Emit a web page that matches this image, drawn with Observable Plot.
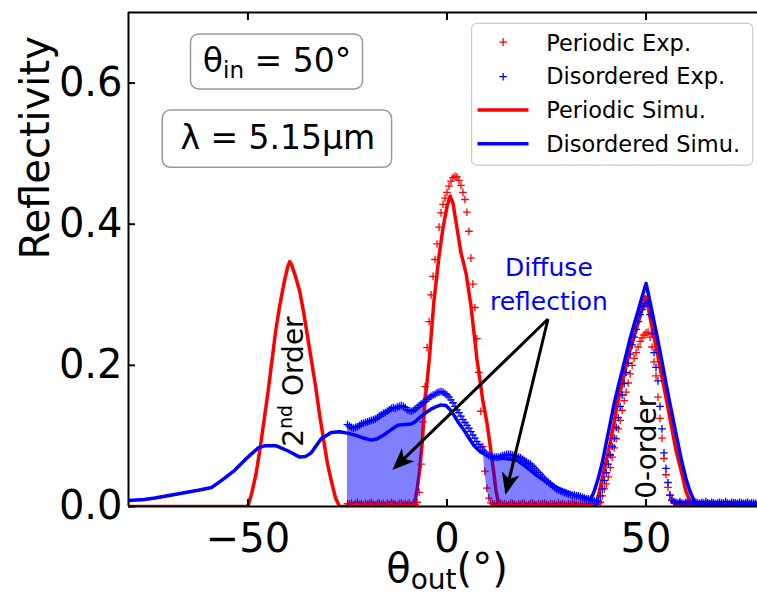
<!DOCTYPE html>
<html><head><meta charset="utf-8">
<script src="https://cdn.jsdelivr.net/npm/d3@7"></script>
<script src="https://cdn.jsdelivr.net/npm/@observablehq/plot@0.6"></script>
<style>body{margin:0;background:white;}</style>
</head><body><div id="chart"></div>
<script>
// ---------- data ----------
const xTicks = [-50, 0, 50];
const yTicks = [0, 0.2, 0.4, 0.6];

// Periodic simulation [theta_out, reflectivity]
const periodicSim = [
  [-80,0],[-50,0],[-49,0.02],[-48,0.045],[-47,0.08],[-46,0.12],[-45,0.16],[-44,0.205],[-43,0.25],[-42,0.285],
  [-41,0.315],[-40,0.34],[-39.5,0.347],[-39,0.342],[-38,0.325],[-37,0.305],[-36,0.275],[-35,0.24],[-34,0.205],
  [-33,0.17],[-32,0.13],[-31,0.095],[-30,0.06],[-29,0.035],[-28,0.012],[-27,0],
  [-8.3,0],[-7.5,0.025],[-6.9,0.05],[-6.3,0.085],[-5.5,0.15],[-4.5,0.205],[-3.3,0.29],[-2,0.355],[-1,0.395],
  [0,0.425],[0.8,0.44],[1.5,0.43],[2.5,0.395],[3.5,0.36],[4.8,0.33],[6,0.285],[7.5,0.21],[9,0.15],[10,0.12],
  [10.9,0.084],[11.7,0.05],[12.3,0.023],[13.1,0],
  [37.3,0],[38,0.015],[39,0.04],[40,0.065],[41,0.09],[42,0.12],[42.8,0.146],[44,0.175],[45,0.2],[46,0.222],
  [47,0.24],[48,0.26],[49,0.28],[49.9,0.297],[50.5,0.283],[51,0.268],[52,0.24],[53,0.212],[54,0.183],[55.3,0.146],
  [56.5,0.11],[57.5,0.08],[58.8,0.051],[60,0.022],[61,0.008],[61.6,0],[80,0]
];

// Disordered simulation [theta_out, reflectivity]
const disorderedSim = [
  [-80,0.0085],[-76,0.01],[-73.4,0.012],[-68.4,0.017],[-62.5,0.023],[-59.1,0.027],[-56.6,0.037],[-53.4,0.051],
  [-50,0.07],[-47.4,0.083],[-45.8,0.086],[-42.9,0.086],[-40,0.079],[-37,0.07],[-35.5,0.071],[-34.1,0.076],
  [-31.6,0.096],[-29.1,0.105],[-27,0.106],[-25,0.104],[-23,0.101],[-21,0.097],[-19,0.094],[-17.5,0.096],
  [-16,0.101],[-14,0.109],[-12.4,0.115],[-11,0.116],[-9,0.117],[-8,0.12],[-6.5,0.128],[-5,0.134],[-4,0.138],
  [-2.5,0.142],[-1.5,0.144],[-0.25,0.143],[0.8,0.137],[1.8,0.129],[3,0.118],[4.3,0.108],[5.5,0.097],[6.8,0.086],
  [8.5,0.077],[10.2,0.072],[12,0.07],[14.4,0.068],[16,0.067],[17.7,0.065],[19.5,0.058],[21,0.051],[23,0.042],
  [25.2,0.034],[27.5,0.027],[29.4,0.022],[32,0.016],[34.4,0.013],[35.5,0.011],[36.1,0.01],
  [37,0.022],[38,0.04],[39,0.062],[40,0.09],[41,0.118],[42,0.146],[43,0.17],[44,0.192],[45,0.215],[46,0.238],
  [47,0.258],[48,0.277],[49,0.297],[50,0.316],[51,0.29],[52,0.262],[52.8,0.24],[54,0.205],[55,0.175],[56,0.146],
  [57,0.118],[58,0.09],[59,0.063],[60,0.04],[61,0.022],[62,0.009],[62.5,0.005],[70,0.005],[80,0.004]
];

// Experimental sampling angles (every 0.5 deg from -25 to 80)
const expTheta = d3.range(-25, 80.25, 0.5);

// Periodic experiment reflectivity at expTheta
const periodicExpR = [
  // -25 .. -8
  0.004,0.003,0.005,0.002,0.004,0.006,0.003,0.004,0.002,0.005,
  0.003,0.004,0.006,0.003,0.002,0.004,0.005,0.003,0.004,0.002,
  0.005,0.003,0.006,0.004,0.003,0.002,0.004,0.005,0.003,0.004,
  0.003,0.005,0.002,0.004,0.003,
  // -7.5 .. 11
  0.006,0.02,0.06,0.12,0.17,0.225,0.262,0.3,0.326,0.35,
  0.372,0.396,0.416,0.428,0.437,0.445,0.454,0.461,0.466,0.468,
  0.467,0.462,0.455,0.445,0.435,0.417,0.39,0.352,0.315,0.282,
  0.238,0.19,0.135,0.085,0.05,0.026,0.012,0.005,
  // 11.5 .. 38
  0.004,0.003,0.002,0.004,0.005,0.003,0.004,0.002,0.003,0.005,
  0.004,0.003,0.002,0.004,0.003,0.005,0.004,0.002,0.003,0.004,
  0.005,0.003,0.002,0.004,0.003,0.004,0.005,0.003,0.002,0.004,
  0.003,0.004,0.002,0.005,0.003,0.004,0.003,0.002,0.004,0.003,
  0.005,0.004,0.003,0.002,0.004,0.003,0.004,0.003,0.002,0.003,
  0.004,0.003,0.003,0.004,
  // 38.5 .. 57
  0.006,0.015,0.025,0.032,0.042,0.055,0.07,0.083,0.096,0.11,
  0.122,0.136,0.15,0.162,0.175,0.188,0.2,0.21,0.218,0.226,
  0.234,0.239,0.243,0.246,0.247,0.24,0.226,0.205,0.185,0.155,
  0.125,0.097,0.068,0.045,0.027,0.016,0.009,0.005,
  // 57.5 .. 80
  0.004,0.003,0.005,0.003,0.002,0.004,0.006,0.003,0.004,0.002,
  0.005,0.003,0.004,0.003,0.002,0.004,0.005,0.003,0.004,0.003,
  0.002,0.004,0.003,0.005,0.003,0.004,0.002,0.003,0.004,0.005,
  0.003,0.004,0.002,0.003,0.004,0.003,0.005,0.003,0.004,0.002,
  0.003,0.004,0.003,0.005,0.004,0.003
];

// Disordered experiment reflectivity at expTheta
const disorderedExpR = [
  // -25 .. -8
  0.116,0.114,0.112,0.111,0.112,0.113,0.115,0.117,0.118,0.119,
  0.12,0.121,0.122,0.123,0.124,0.126,0.128,0.13,0.132,0.133,
  0.135,0.137,0.139,0.14,0.139,0.141,0.142,0.143,0.142,0.14,
  0.137,0.136,0.135,0.136,0.138,
  // -7.5 .. 11
  0.14,0.143,0.145,0.147,0.149,0.152,0.154,0.156,0.158,0.159,
  0.161,0.162,0.163,0.162,0.16,0.158,0.155,0.151,0.147,0.142,
  0.137,0.133,0.128,0.123,0.119,0.115,0.111,0.106,0.101,0.097,
  0.092,0.088,0.084,0.08,0.077,0.074,0.072,0.071,
  // 11.5 .. 38
  0.07,0.07,0.07,0.07,0.071,0.072,0.073,0.074,0.074,0.074,
  0.073,0.072,0.071,0.07,0.069,0.067,0.065,0.063,0.061,0.06,
  0.057,0.054,0.051,0.048,0.045,0.042,0.039,0.036,0.034,0.032,
  0.029,0.027,0.025,0.023,0.022,0.021,0.02,0.019,0.018,0.017,
  0.016,0.016,0.015,0.015,0.014,0.013,0.012,0.011,0.011,0.01,
  0.009,0.008,0.007,0.008,
  // 38.5 .. 57
  0.015,0.025,0.037,0.048,0.06,0.073,0.085,0.097,0.112,0.126,
  0.142,0.158,0.174,0.19,0.203,0.216,0.229,0.24,0.251,0.262,
  0.272,0.279,0.284,0.287,0.288,0.272,0.245,0.218,0.197,0.178,
  0.142,0.11,0.076,0.054,0.034,0.016,0.009,0.007,
  // 57.5 .. 80
  0.006,0.005,0.007,0.005,0.004,0.006,0.005,0.007,0.004,0.005,
  0.006,0.005,0.004,0.006,0.005,0.007,0.005,0.004,0.006,0.005,
  0.004,0.005,0.006,0.004,0.005,0.007,0.005,0.004,0.006,0.005,
  0.005,0.004,0.006,0.005,0.004,0.005,0.006,0.004,0.005,0.005,
  0.004,0.006,0.005,0.004,0.005,0.006
];

const legendLabels = ["Periodic Exp.", "Disordered Exp.", "Periodic Simu.", "Disordered Simu."];
const legendBaselines = [0.646, 0.598, 0.551, 0.502];
const legendRows = [0.658, 0.609, 0.562, 0.514];

const arrowData = [
  {x1: 25.5, y1: 0.265, x2: -13.6, y2: 0.051},
  {x1: 25.5, y1: 0.265, x2: 14.8, y2: 0.016}
];

// ---------- build ----------
const expRows = expTheta.map((t, i) => ({t, red: periodicExpR[i], blue: disorderedExpR[i]}));
const fillRows = expRows.filter(d => d.t <= 37);
const FONT = "'DejaVu Sans', sans-serif";
const CROSS_R = 2.6, CROSS_W = 1.3;

const arrowRender = (index, scales, values) => {
  const g = d3.create("svg:g");
  for (const i of index) {
    const X1 = values.x1[i], Y1 = values.y1[i], X2 = values.x2[i], Y2 = values.y2[i];
    const dx = X2 - X1, dy = Y2 - Y1, L = Math.hypot(dx, dy), ux = dx / L, uy = dy / L;
    const hl = 22, hw = 9, nl = 16;
    const bx = X2 - ux * hl, by = Y2 - uy * hl;
    const nx = X2 - ux * nl, ny = Y2 - uy * nl;
    g.append("line").attr("x1", X1).attr("y1", Y1).attr("x2", nx).attr("y2", ny)
      .attr("stroke", "black").attr("stroke-width", 3);
    g.append("path")
      .attr("d", `M${X2},${Y2}L${bx - uy * hw},${by + ux * hw}L${nx},${ny}L${bx + uy * hw},${by - ux * hw}Z`)
      .attr("fill", "black");
  }
  return g.node();
};

const plot = Plot.plot({
  width: 757, height: 597,
  marginLeft: 128, marginRight: 0, marginTop: 12, marginBottom: 91,
  style: {fontFamily: FONT, fontSize: "40px", color: "black", background: "white", overflow: "hidden"},
  x: {domain: [-80, 80], range: [128, 765]},
  y: {domain: [0, 0.7]},
  marks: [
    Plot.dot(expRows, {x: "t", y: "red", symbol: "plus", r: CROSS_R, stroke: "red", strokeWidth: CROSS_W, clip: true}),
    Plot.line(periodicSim, {x: d => d[0], y: d => d[1], stroke: "red", strokeWidth: 3.5, clip: true}),
    Plot.areaY(fillRows, {x: "t", y1: "red", y2: d => Math.max(d.red, d.blue), fill: "blue", fillOpacity: 0.5}),
    Plot.dot(expRows, {x: "t", y: "blue", symbol: "plus", r: CROSS_R, stroke: "blue", strokeWidth: CROSS_W, clip: true}),
    Plot.line(disorderedSim, {x: d => d[0], y: d => d[1], stroke: "blue", strokeWidth: 3.5, clip: true}),

    // spines
    Plot.ruleX([-80], {stroke: "black", strokeWidth: 2}),
    Plot.ruleY([0, 0.7], {stroke: "black", strokeWidth: 2}),

    // axes (inward ticks)
    Plot.axisX(xTicks, {anchor: "bottom", tickSize: -7, tickPadding: 24, label: null, fontSize: 40, strokeWidth: 2}),
    Plot.axisX(xTicks, {anchor: "top", tickSize: -7, tickFormat: () => "", label: null, strokeWidth: 2}),
    Plot.axisY(yTicks, {anchor: "left", tickSize: -7, tickPadding: 13, tickFormat: d3.format(".1f"), label: null, fontSize: 40, strokeWidth: 2}),

    // axis titles
    Plot.text(["Reflectivity"], {frameAnchor: "left", dx: -80, rotate: -90, lineAnchor: "bottom", fontSize: 40}),
    Plot.text(["θout(°)"], {x: 0, frameAnchor: "bottom", dy: 75, lineAnchor: "bottom", fontSize: 40}),

    // condition boxes
    Plot.rect([0], {x1: -64.3, x2: -21.1, y1: 0.591, y2: 0.669, rx: 8, fill: "white", stroke: "#999", strokeWidth: 1.5}),
    Plot.text(["θin = 50°"], {x: -42.7, y: 0.615, lineAnchor: "bottom", fontSize: 33}),
    Plot.rect([0], {x1: -71.4, x2: -13.8, y1: 0.48, y2: 0.561, rx: 8, fill: "white", stroke: "#999", strokeWidth: 1.5}),
    Plot.text(["λ = 5.15μm"], {x: -42.5, y: 0.506, lineAnchor: "bottom", fontSize: 33}),

    // in-plot labels
    Plot.text(["2nd Order"], {x: -38.4, y: 0.177, rotate: -90, fontSize: 28}),
    Plot.text(["0-order"], {x: 50.3, y: 0.084, rotate: -90, fontSize: 28}),
    Plot.text(["Diffuse", "reflection"], {x: 25.6, y: (d, i) => [0.326, 0.278][i], fill: "blue", lineAnchor: "bottom", fontSize: 25}),
    Plot.arrow(arrowData, {x1: "x1", y1: "y1", x2: "x2", y2: "y2", render: arrowRender}),

    // legend
    Plot.rect([0], {x1: 6.3, x2: 76.9, y1: 0.483, y2: 0.684, rx: 5, fill: "white", fillOpacity: 0.8, stroke: "#cccccc", strokeWidth: 1.2}),
    Plot.dot([0], {x: 14.1, y: legendRows[0], symbol: "plus", r: CROSS_R, stroke: "red", strokeWidth: CROSS_W}),
    Plot.dot([0], {x: 14.1, y: legendRows[1], symbol: "plus", r: CROSS_R, stroke: "blue", strokeWidth: CROSS_W}),
    Plot.ruleY([legendRows[2]], {x1: 7.8, x2: 20.6, stroke: "red", strokeWidth: 3.5}),
    Plot.ruleY([legendRows[3]], {x1: 7.8, x2: 20.6, stroke: "blue", strokeWidth: 3.5}),
    Plot.text(legendLabels, {x: 24.9, y: (d, i) => legendBaselines[i], textAnchor: "start", lineAnchor: "bottom", fontSize: 22.5})
  ]
});

// rich text (subscripts / superscripts)
const rich = {
  "θin = 50°": el => {
    el.append("tspan").text("θ");
    el.append("tspan").attr("font-size", "23px").attr("dy", 6).text("in");
    el.append("tspan").attr("dy", -6).text(" = 50°");
  },
  "θout(°)": el => {
    el.append("tspan").text("θ");
    el.append("tspan").attr("font-size", "28px").attr("dy", 7).text("out");
    el.append("tspan").attr("dy", -7).text("(°)");
  },
  "2nd Order": el => {
    el.append("tspan").text("2");
    el.append("tspan").attr("font-size", "19px").attr("dy", -11).text("nd");
    el.append("tspan").attr("dy", 11).text(" Order");
  }
};
d3.select(plot).selectAll("text").each(function () {
  const fn = rich[this.textContent];
  if (fn) { const el = d3.select(this); el.text(null); fn(el); }
});

document.getElementById("chart").appendChild(plot);
</script>
</body></html>
